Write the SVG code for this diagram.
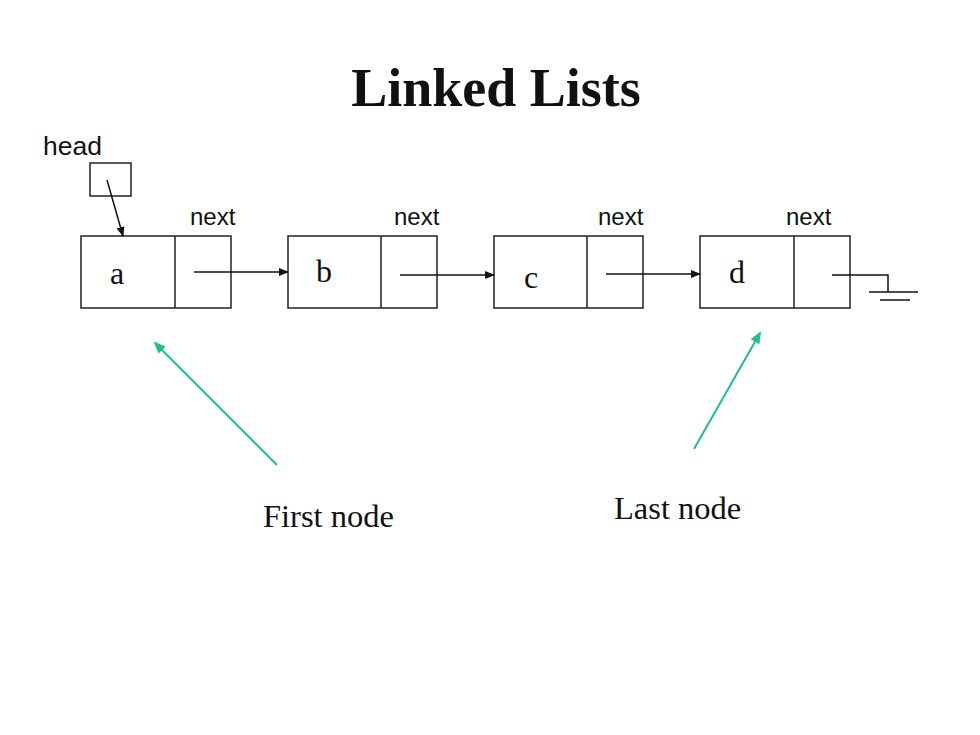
<svg xmlns="http://www.w3.org/2000/svg" width="980" height="735" viewBox="0 0 980 735">
<defs>
<style>
.box{fill:none;stroke:#222;stroke-width:1.5}
.ln{fill:none;stroke:#111;stroke-width:1.5}
.gr{fill:none;stroke:#1dbf8e;stroke-width:2}
.sans{font-family:"Liberation Sans",Arial,sans-serif;fill:#111}
.serif{font-family:"Liberation Serif","Times New Roman",serif;fill:#111}
</style>
<marker id="ah" markerWidth="10" markerHeight="8" refX="9" refY="4" orient="auto" markerUnits="userSpaceOnUse"><path d="M0,0 L10,4 L0,8 Z" fill="#111"/></marker>
<marker id="ag" markerWidth="12" markerHeight="10" refX="10" refY="5" orient="auto" markerUnits="userSpaceOnUse"><path d="M0,0 L12,5 L0,10 Z" fill="#1dbf8e"/></marker>
</defs>
<rect width="980" height="735" fill="#fff"/>
<text x="496" y="106" text-anchor="middle" class="serif" font-size="54" font-weight="bold">Linked Lists</text>
<g id="head"><text x="43" y="155" class="sans" font-size="26.5">head</text><rect class="box" x="90" y="163" width="41" height="33"/></g>
<g id="node-a"><rect class="box" x="81" y="236" width="150" height="72"/><line class="box" x1="175" y1="236" x2="175" y2="308"/><text x="117" y="284" text-anchor="middle" class="serif" font-size="32">a</text><text x="190" y="225" class="sans" font-size="24">next</text></g>
<g id="node-b"><rect class="box" x="288" y="236" width="149" height="72"/><line class="box" x1="381" y1="236" x2="381" y2="308"/><text x="324" y="282" text-anchor="middle" class="serif" font-size="32">b</text><text x="394" y="225" class="sans" font-size="24">next</text></g>
<g id="node-c"><rect class="box" x="494" y="236" width="149" height="72"/><line class="box" x1="587" y1="236" x2="587" y2="308"/><text x="531" y="288" text-anchor="middle" class="serif" font-size="32">c</text><text x="598" y="225" class="sans" font-size="24">next</text></g>
<g id="node-d"><rect class="box" x="700" y="236" width="150" height="72"/><line class="box" x1="794" y1="236" x2="794" y2="308"/><text x="737" y="283" text-anchor="middle" class="serif" font-size="32">d</text><text x="786" y="225" class="sans" font-size="24">next</text></g>
<g id="ground"><path class="ln" d="M832,275 H888 V292"/><line class="ln" x1="869" y1="292" x2="918" y2="292"/><line class="ln" x1="880" y1="300" x2="910" y2="300"/></g>
<g id="labels"><text x="263" y="527" class="serif" font-size="32.5">First node</text><text x="614" y="519" class="serif" font-size="32.5">Last node</text></g>
<g id="connectors">
<line class="ln" x1="107" y1="180" x2="123" y2="236" marker-end="url(#ah)"/>
<line class="ln" x1="194" y1="272" x2="288" y2="272" marker-end="url(#ah)"/>
<line class="ln" x1="400" y1="275" x2="494" y2="275" marker-end="url(#ah)"/>
<line class="ln" x1="606" y1="274" x2="700" y2="274" marker-end="url(#ah)"/>
<line class="gr" x1="277" y1="465" x2="155" y2="343" marker-end="url(#ag)"/>
<line class="gr" x1="694" y1="449" x2="760" y2="333" marker-end="url(#ag)"/>
</g>
</svg>
